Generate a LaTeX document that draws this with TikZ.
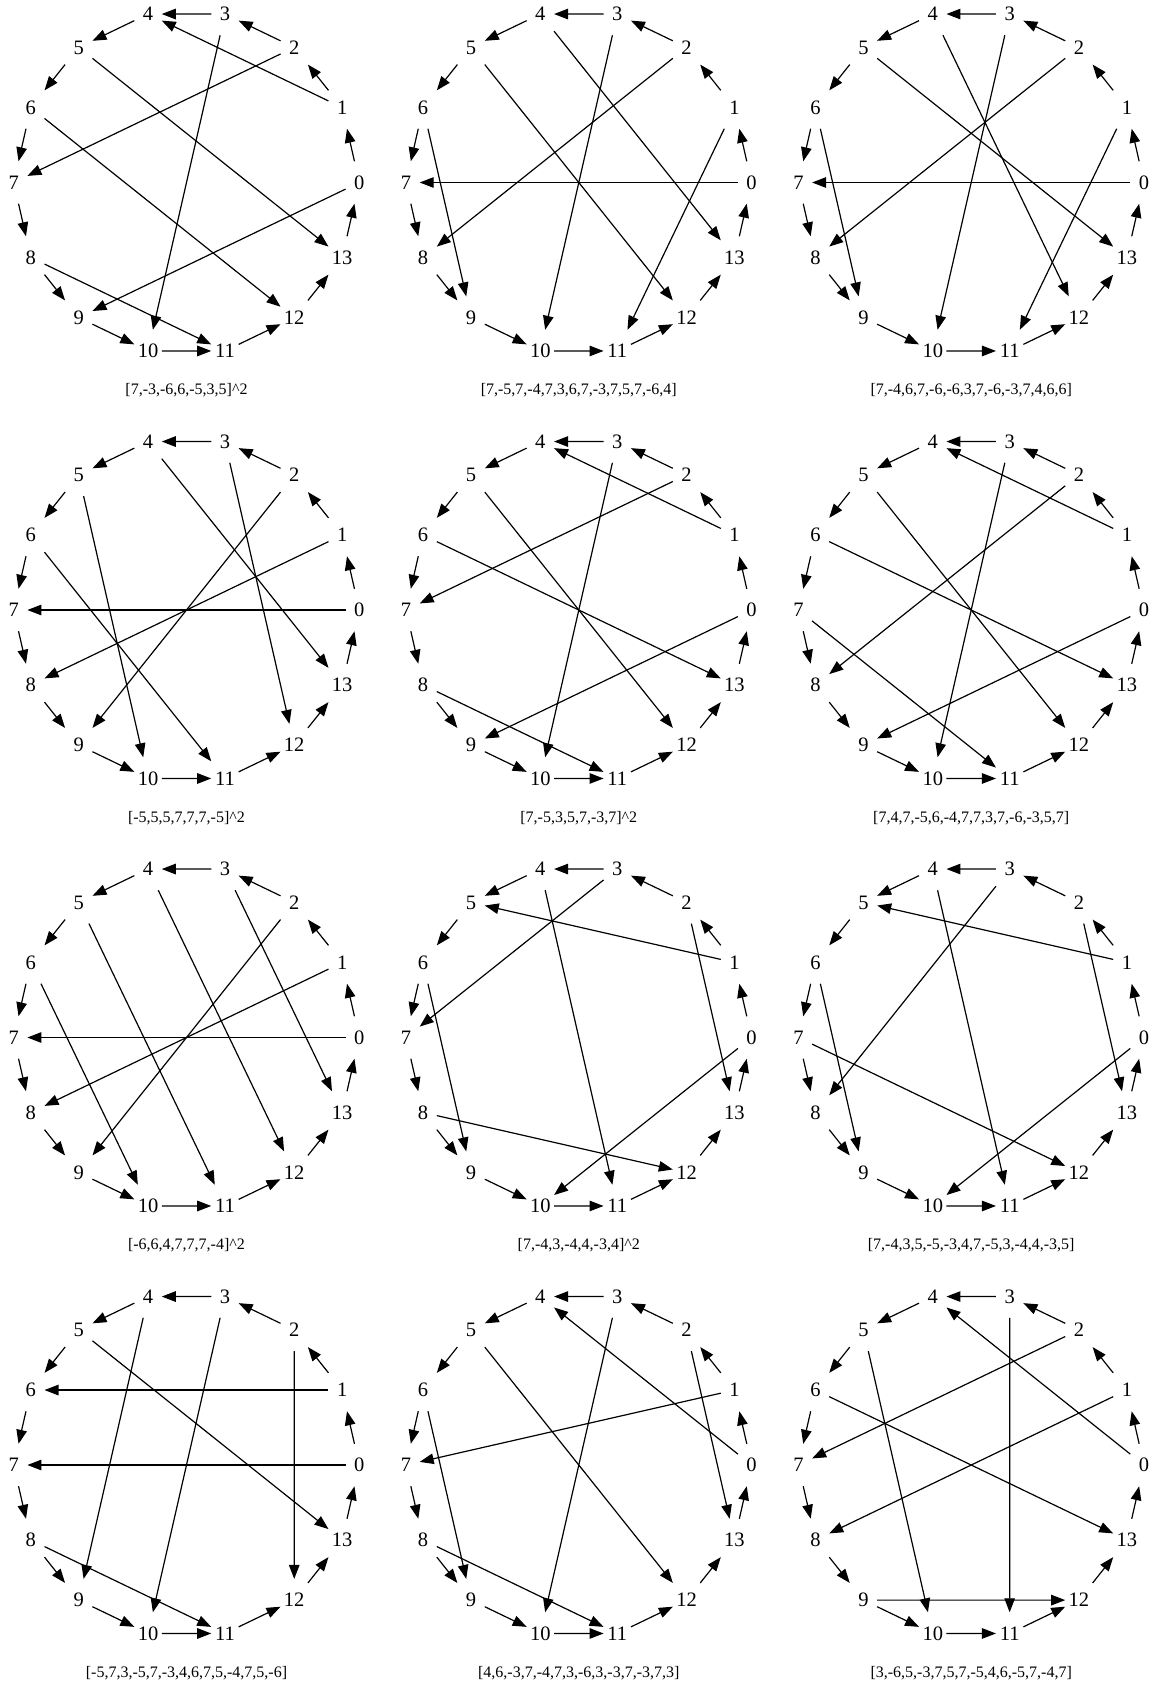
\documentclass[tikz,border=0pt]{standalone}
\usepackage{fontspec}
\setmainfont{Liberation Serif}
\usetikzlibrary{arrows.meta}
\newcommand\lcfpanel[5]{%
  \foreach \k in {0,...,13}{
    \node[vtx] (#1v\k) at ({#2+172.8*cos(\k*360/14)},{#3-172.8*sin(\k*360/14)}) {\k};
  }
  \foreach \k in {0,...,13}{
    \pgfmathtruncatemacro\nxt{mod(\k+1,14)}
    \draw[edg] (#1v\k) -- (#1v\nxt);
  }
  \foreach \a/\b in {#5}{
    \draw[edg] (#1v\a) -- (#1v\b);
  }
  \node[captxt] (#1cap) at (#2,#3+208) {#4};
}
\begin{document}
\begin{tikzpicture}[x=1pt,y=-1pt,
  vtx/.style={rectangle,inner sep=0pt,minimum width=27pt,minimum height=42pt,font=\fontsize{20.5}{21}\selectfont},
  edg/.style={line width=1.2pt,-{Triangle[length=14pt,width=10.5pt]}},
  captxt/.style={font=\fontsize{16}{18}\selectfont}]
\useasboundingbox (0,0) rectangle (1152,1687);
\lcfpanel{pa}{186.5}{182.5}{[7,-3,-6,6,-5,3,5]\textasciicircum 2}{1/4,3/10,2/7,5/13,6/12,0/9,8/11}
\lcfpanel{pb}{578.8}{182.5}{[7,-5,7,-4,7,3,6,7,-3,7,5,7,-6,4]}{4/13,3/10,2/8,5/12,6/9,0/7,1/11}
\lcfpanel{pc}{971.2}{182.5}{[7,-4,6,7,-6,-6,3,7,-6,-3,7,4,6,6]}{4/12,3/10,2/8,5/13,6/9,0/7,1/11}
\lcfpanel{pd}{186.5}{610}{[-5,5,5,7,7,7,-5]\textasciicircum 2}{4/13,3/12,2/9,1/8,0/7,5/10,6/11}
\lcfpanel{pe}{578.8}{610}{[7,-5,3,5,7,-3,7]\textasciicircum 2}{1/4,3/10,2/7,5/12,6/13,0/9,8/11}
\lcfpanel{pf}{971.2}{610}{[7,4,7,-5,6,-4,7,7,3,7,-6,-3,5,7]}{1/4,3/10,2/8,5/12,6/13,0/9,7/11}
\lcfpanel{pg}{186.5}{1037.5}{[-6,6,4,7,7,7,-4]\textasciicircum 2}{3/13,4/12,2/9,1/8,0/7,5/11,6/10}
\lcfpanel{ph}{578.8}{1037.5}{[7,-4,3,-4,4,-3,4]\textasciicircum 2}{1/5,3/7,4/11,2/13,0/10,6/9,8/12}
\lcfpanel{pi}{971.2}{1037.5}{[7,-4,3,5,-5,-3,4,7,-5,3,-4,4,-3,5]}{1/5,3/8,4/11,2/13,0/10,6/9,7/12}
\lcfpanel{pj}{186.5}{1465}{[-5,7,3,-5,7,-3,4,6,7,5,-4,7,5,-6]}{1/6,0/7,4/9,3/10,2/12,5/13,8/11}
\lcfpanel{pk}{578.8}{1465}{[4,6,-3,7,-4,7,3,-6,3,-3,7,-3,7,3]}{0/4,1/7,3/10,2/13,5/12,6/9,8/11}
\lcfpanel{pl}{971.2}{1465}{[3,-6,5,-3,7,5,7,-5,4,6,-5,7,-4,7]}{0/4,3/11,2/7,1/8,5/10,6/13,9/12}
\end{tikzpicture}
\end{document}
